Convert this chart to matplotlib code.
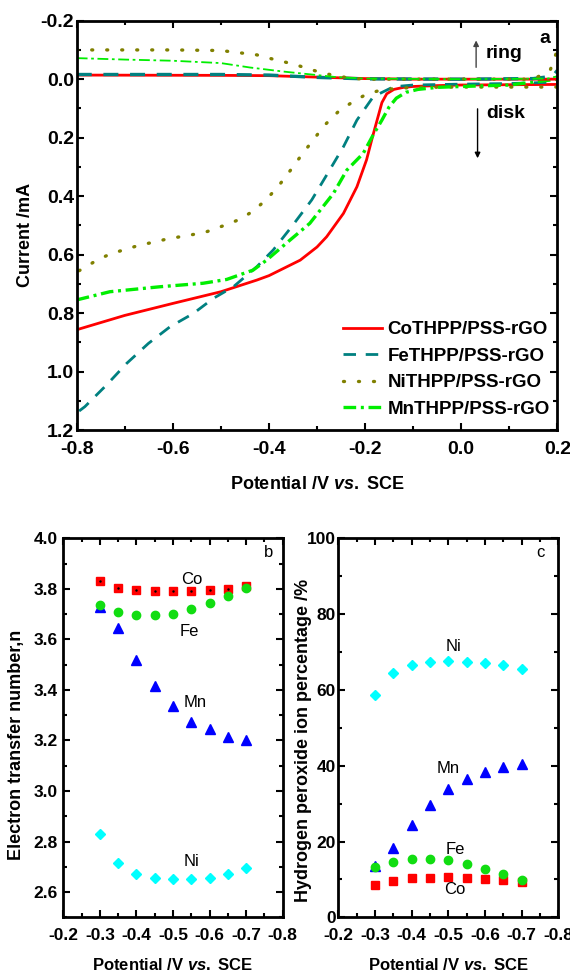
import matplotlib
matplotlib.use("Agg")
import matplotlib.pyplot as plt
from matplotlib.ticker import MultipleLocator

plt.rcParams['font.family'] = ['Liberation Sans', 'DejaVu Sans']
plt.rcParams['axes.unicode_minus'] = False
plt.rcParams['mathtext.fontset'] = 'custom'
plt.rcParams['mathtext.it'] = 'Liberation Sans:italic:bold'
plt.rcParams['mathtext.rm'] = 'Liberation Sans:bold'

# ---- panel a: RRDE curves (disk + ring) ----
co_disk_v = [-0.8, -0.7, -0.6, -0.5, -0.425, -0.4, -0.335, -0.3, -0.28, -0.245, -0.217, -0.197,
             -0.185, -0.175, -0.165, -0.155, -0.14, -0.12, -0.1, -0.05, 0.0, 0.1, 0.2]
co_disk_i = [0.857, 0.808, 0.767, 0.727, 0.687, 0.672, 0.619, 0.574, 0.539, 0.459, 0.368, 0.276,
             0.20, 0.14, 0.08, 0.05, 0.035, 0.028, 0.025, 0.022, 0.02, 0.019, 0.018]
fe_disk_v = [-0.795, -0.783, -0.738, -0.696, -0.651, -0.606, -0.557, -0.516, -0.474, -0.425, -0.391,
             -0.353, -0.311, -0.28, -0.245, -0.217, -0.183, -0.141, -0.1, 0.0, 0.1, 0.2]
fe_disk_i = [1.135, 1.12, 1.046, 0.972, 0.904, 0.847, 0.801, 0.75, 0.71, 0.641, 0.584,
             0.505, 0.413, 0.328, 0.231, 0.140, 0.060, 0.026, 0.02, 0.017, 0.015, 0.01]
ni_disk_v = [-0.795, -0.786, -0.755, -0.727, -0.696, -0.668, -0.641, -0.613, -0.585, -0.557, -0.53,
             -0.491, -0.46, -0.432, -0.405, -0.379, -0.355, -0.332, -0.308, -0.284, -0.257, -0.228,
             -0.199, -0.171, -0.143, -0.1, 0.0, 0.1, 0.2]
ni_disk_i = [0.655, 0.647, 0.616, 0.596, 0.581, 0.567, 0.558, 0.547, 0.539, 0.531, 0.522,
             0.499, 0.479, 0.45, 0.411, 0.363, 0.311, 0.259, 0.208, 0.157, 0.113, 0.08,
             0.053, 0.039, 0.033, 0.028, 0.027, 0.027, 0.027]
mn_disk_v = [-0.8, -0.731, -0.627, -0.537, -0.488, -0.433, -0.405, -0.356, -0.315, -0.266, -0.238,
             -0.204, -0.183, -0.165, -0.15, -0.135, -0.115, -0.09, -0.05, 0.0, 0.1, 0.2]
mn_disk_i = [0.755, 0.727, 0.71, 0.698, 0.685, 0.653, 0.619, 0.55, 0.493, 0.391, 0.311,
             0.254, 0.19, 0.14, 0.095, 0.065, 0.045, 0.035, 0.028, 0.025, 0.02, 0.0]

co_ring_v = [-0.8, -0.5, -0.4, -0.3, -0.2, -0.1, 0.2]
co_ring_i = [-0.014, -0.013, -0.012, -0.007, -0.002, 0.0, 0.0]
fe_ring_v = [-0.8, -0.5, -0.4, -0.3, -0.2, 0.0, 0.15, 0.19, 0.2]
fe_ring_i = [-0.016, -0.016, -0.014, -0.006, -0.001, 0.0, -0.002, -0.01, -0.03]
ni_ring_v = [-0.8, -0.6, -0.5, -0.425, -0.398, -0.37, -0.342, -0.315, -0.286, -0.258, -0.23,
             -0.2, 0.0, 0.15, 0.185, 0.2]
ni_ring_i = [-0.1, -0.1, -0.098, -0.083, -0.071, -0.06, -0.048, -0.034, -0.02, -0.011, -0.003,
             0.0, 0.0, 0.0, -0.03, -0.1]
mn_ring_v = [-0.8, -0.7, -0.6, -0.5, -0.44, -0.37, -0.3, -0.26, -0.2, 0.0, 0.18, 0.2]
mn_ring_i = [-0.072, -0.067, -0.063, -0.055, -0.04, -0.026, -0.014, -0.007, -0.002, 0.0, -0.002, -0.01]

labels = ["CoTHPP/PSS-rGO", "FeTHPP/PSS-rGO", "NiTHPP/PSS-rGO", "MnTHPP/PSS-rGO"]

# ---- panels b and c ----
pot = [-0.3, -0.35, -0.4, -0.45, -0.5, -0.55, -0.6, -0.65, -0.7]
n_co = [3.83, 3.805, 3.795, 3.79, 3.79, 3.79, 3.795, 3.80, 3.81]
n_fe = [3.735, 3.71, 3.697, 3.695, 3.70, 3.72, 3.745, 3.77, 3.805]
n_mn = [3.73, 3.645, 3.52, 3.415, 3.335, 3.275, 3.245, 3.215, 3.20]
n_ni = [2.83, 2.715, 2.67, 2.655, 2.65, 2.65, 2.655, 2.67, 2.695]

h_ni = [58.7, 64.5, 66.5, 67.3, 67.6, 67.5, 67.2, 66.7, 65.4]
h_mn = [13.5, 18.3, 24.3, 29.6, 33.8, 36.5, 38.3, 39.6, 40.4]
h_fe = [13.3, 14.6, 15.3, 15.4, 15.0, 14.1, 12.8, 11.4, 9.8]
h_co = [8.6, 9.7, 10.3, 10.5, 10.6, 10.4, 10.2, 9.9, 9.4]

xlab = r"Potential /V $\it{vs.}$ SCE"

fig = plt.figure(figsize=(5.7, 9.76), dpi=100)
ax = fig.add_axes([0.1346, 0.5594, 0.8432, 0.4194])
axb = fig.add_axes([0.111, 0.0601, 0.385, 0.3883])
axc = fig.add_axes([0.5935, 0.0601, 0.386, 0.3883])

c_red, c_teal, c_olive, c_lime = "#ff0000", "#008080", "#808000", "#00ee00"

# disk
ax.plot(co_disk_v, co_disk_i, color=c_red, lw=2.0, label=labels[0])
ax.plot(fe_disk_v, fe_disk_i, color=c_teal, lw=2.0, dashes=(4.5, 3.5), label=labels[1])
ax.plot(ni_disk_v, ni_disk_i, color=c_olive, lw=2.4, dashes=(0.3, 4.2),
        dash_capstyle='round', label=labels[2])
ax.plot(mn_disk_v, mn_disk_i, color=c_lime, lw=2.4, dashes=(3.8, 1.4, 0.9, 1.4), label=labels[3])
# ring
ax.plot(co_ring_v, co_ring_i, color=c_red, lw=2.0)
ax.plot(fe_ring_v, fe_ring_i, color=c_teal, lw=2.4, dashes=(4.5, 3.5))
ax.plot(ni_ring_v, ni_ring_i, color=c_olive, lw=2.4, dashes=(0.3, 4.2), dash_capstyle='round')
ax.plot(mn_ring_v, mn_ring_i, color=c_lime, lw=1.3, dashes=(6, 2, 1.5, 2))

ax.set_xlim(-0.8, 0.2)
ax.set_ylim(1.2, -0.2)
ax.xaxis.set_minor_locator(MultipleLocator(0.1))
ax.yaxis.set_minor_locator(MultipleLocator(0.1))
ax.set_xticks([-0.8, -0.6, -0.4, -0.2, 0.0, 0.2])
ax.set_xticklabels(["-0.8", "-0.6", "-0.4", "-0.2", "0.0", "0.2"])
ax.set_yticks([-0.2, 0.0, 0.2, 0.4, 0.6, 0.8, 1.0, 1.2])
ax.set_yticklabels(["-0.2", "0.0", "0.2", "0.4", "0.6", "0.8", "1.0", "1.2"])
ax.tick_params(which='both', direction='in', top=True, right=True, width=1.5)
ax.tick_params(which='major', length=5)
ax.tick_params(which='minor', length=3)
ax.tick_params(axis='x', labelsize=14, pad=8)
ax.tick_params(axis='y', labelsize=14, pad=2)
for t in ax.get_xticklabels() + ax.get_yticklabels():
    t.set_fontweight('bold')
for s in ax.spines.values():
    s.set_linewidth(2)
ax.set_ylabel("Current /mA", fontsize=13, fontweight='bold')
ax.yaxis.set_label_coords(-0.089, 0.476)
ax.set_xlabel(xlab, fontsize=13, fontweight='bold')
ax.xaxis.set_label_coords(0.5, -0.112)

ax.legend(loc='lower right', bbox_to_anchor=(1.01, 0.0), frameon=False,
          prop={'weight': 'bold', 'size': 13.5}, handlelength=2.1, handletextpad=0.3,
          labelspacing=0.5, borderaxespad=0.25)

ax.annotate("", xy=(0.031, -0.142), xytext=(0.031, -0.031),
            arrowprops=dict(arrowstyle='-|>', color='#444444', lw=1, mutation_scale=8))
ax.annotate("", xy=(0.034, 0.28), xytext=(0.034, 0.092),
            arrowprops=dict(arrowstyle='-|>', color='black', lw=1, mutation_scale=8))
ax.text(0.05, -0.088, "ring", fontsize=14, fontweight='bold', va='center', ha='left')
ax.text(0.053, 0.117, "disk", fontsize=14, fontweight='bold', va='center', ha='left')
ax.text(0.173, -0.14, "a", fontsize=14, fontweight='bold', va='center', ha='center')

# panel b
axb.plot(pot, n_co, ls='none', marker='s', ms=5.2, color='#ff0000')
axb.plot(pot, n_co, ls='none', marker='.', ms=1.5, color='black')
axb.plot(pot, n_mn, ls='none', marker='^', ms=7, color='#0000ff')
axb.plot(pot, n_fe, ls='none', marker='o', ms=6, color='#11dd11')
axb.plot(pot, n_ni, ls='none', marker='D', ms=5.5, color='#00ffff')
axb.set_xlim(-0.2, -0.8)
axb.set_ylim(2.5, 4.0)
axb.set_xticks([-0.2, -0.3, -0.4, -0.5, -0.6, -0.7, -0.8])
axb.set_xticklabels(["-0.2", "-0.3", "-0.4", "-0.5", "-0.6", "-0.7", "-0.8"])
axb.xaxis.set_minor_locator(MultipleLocator(0.05))
axb.set_yticks([2.6, 2.8, 3.0, 3.2, 3.4, 3.6, 3.8, 4.0])
axb.set_yticklabels(["2.6", "2.8", "3.0", "3.2", "3.4", "3.6", "3.8", "4.0"])
axb.yaxis.set_minor_locator(MultipleLocator(0.1))
axb.text(-0.551, 3.837, "Co", fontsize=12, ha='center', va='center')
axb.text(-0.544, 3.633, "Fe", fontsize=12, ha='center', va='center')
axb.text(-0.56, 3.35, "Mn", fontsize=12, ha='center', va='center')
axb.text(-0.551, 2.721, "Ni", fontsize=12, ha='center', va='center')
axb.text(-0.761, 3.945, "b", fontsize=12, ha='center', va='center')
axb.set_ylabel("Electron transfer number,n", fontsize=13, fontweight='bold')
axb.yaxis.set_label_coords(-0.175, 0.455)

# panel c
axc.plot(pot, h_ni, ls='none', marker='D', ms=5.5, color='#00ffff')
axc.plot(pot, h_mn, ls='none', marker='^', ms=7, color='#0000ff')
axc.plot(pot, h_co, ls='none', marker='s', ms=5.2, color='#ff0000')
axc.plot(pot, h_fe, ls='none', marker='o', ms=6, color='#11dd11')
axc.set_xlim(-0.2, -0.8)
axc.set_ylim(0, 100)
axc.set_xticks([-0.2, -0.3, -0.4, -0.5, -0.6, -0.7, -0.8])
axc.set_xticklabels(["-0.2", "-0.3", "-0.4", "-0.5", "-0.6", "-0.7", "-0.8"])
axc.xaxis.set_minor_locator(MultipleLocator(0.05))
axc.yaxis.set_major_locator(MultipleLocator(20))
axc.yaxis.set_minor_locator(MultipleLocator(10))
axc.text(-0.514, 71.4, "Ni", fontsize=12, ha='center', va='center')
axc.text(-0.5, 39.3, "Mn", fontsize=12, ha='center', va='center')
axc.text(-0.52, 17.8, "Fe", fontsize=12, ha='center', va='center')
axc.text(-0.518, 7.4, "Co", fontsize=12, ha='center', va='center')
axc.text(-0.75, 96.2, "c", fontsize=12, ha='center', va='center')
axc.set_ylabel("Hydrogen peroxide ion percentage /%", fontsize=13, fontweight='bold')
axc.yaxis.set_label_coords(-0.12, 0.468)

for a, ypad in ((axb, 4), (axc, 2)):
    a.tick_params(which='both', direction='in', top=True, right=True, width=1.5)
    a.tick_params(which='major', length=5)
    a.tick_params(which='minor', length=3)
    a.tick_params(axis='x', labelsize=12.5, pad=8)
    a.tick_params(axis='y', labelsize=12.5, pad=ypad)
    for t in a.get_xticklabels() + a.get_yticklabels():
        t.set_fontweight('bold')
    for s in a.spines.values():
        s.set_linewidth(2)
    a.set_xlabel(xlab, fontsize=12, fontweight='bold')
    a.xaxis.set_label_coords(0.5, -0.105)

fig.savefig("out.png", dpi=100)
